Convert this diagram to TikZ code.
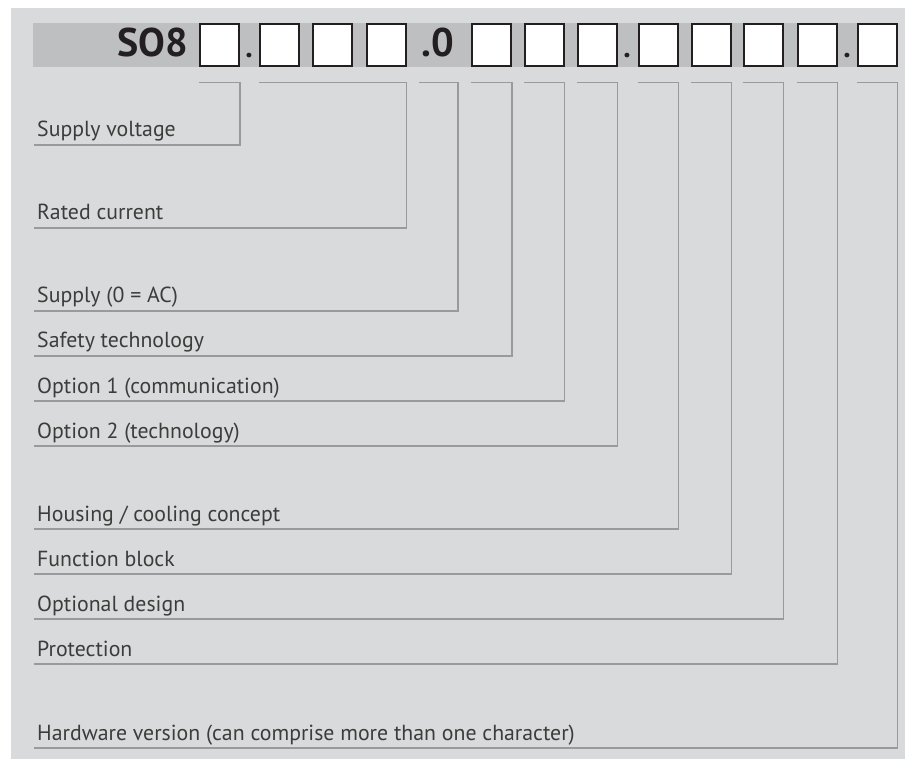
\documentclass[tikz,border=0pt]{standalone}
\usepackage{fontspec}
\setmainfont{PT Sans}
\definecolor{bgc}{HTML}{D9DADB}
\definecolor{bandc}{HTML}{BEBFC1}
\definecolor{leadc}{HTML}{999A9C}
\definecolor{txtc}{HTML}{3C3C3B}
\definecolor{boxc}{HTML}{231F20}
\begin{document}
\begin{tikzpicture}[x=1pt,y=-1pt,
  digit/.style={draw=boxc,line width=2pt,fill=white,minimum width=39pt,minimum height=42.5pt,inner sep=0pt},
  head/.style={text=boxc,font=\fontsize{40}{40}\selectfont\bfseries,inner sep=0pt,anchor=base},
  sep/.style={text=boxc,font=\fontsize{30}{30}\selectfont\bfseries,inner sep=0pt,anchor=base},
  lbl/.style={text=txtc,font=\fontsize{21.8}{21.8}\selectfont,inner sep=0pt,anchor=base west},
  lead/.style={draw=leadc,line width=1.8pt}]
\useasboundingbox (0,0) rectangle (905,759);
\fill[bgc] (11,8) rectangle (905,759);
\fill[bandc] (33,23) rectangle (897,67);
% header
\node[head,anchor=base east] (so) at (188,57) {SO8};
\node[digit] (b1) at (219.5,45) {};
\node[sep] (d1) at (249,58) {.};
\node[digit] (b2) at (279,45) {};
\node[digit] (b3) at (332,45) {};
\node[digit] (b4) at (386,45) {};
\node[head,anchor=base west] (z) at (421,57) {.0};
\node[digit] (b5) at (491.5,45) {};
\node[digit] (b6) at (544,45) {};
\node[digit] (b7) at (597,45) {};
\node[sep] (d2) at (627,58) {.};
\node[digit] (b8) at (658,45) {};
\node[digit] (b9) at (711,45) {};
\node[digit] (b10) at (763,45) {};
\node[digit] (b11) at (817,45) {};
\node[sep] (d3) at (847,58) {.};
\node[digit] (b12) at (877,45) {};
\coordinate (top) at (0,82.5);
\coordinate (zl) at (419,0);
\coordinate (zr) at (458,0);
% labels
\node[lbl] (l1) at (37,137) {Supply voltage};
\node[lbl] (l2) at (37,220) {Rated current};
\node[lbl] (l3) at (37,303) {Supply (0 = AC)};
\node[lbl] (l4) at (37,348) {Safety technology};
\node[lbl] (l5) at (37,393) {Option 1 (communication)};
\node[lbl] (l6) at (37,438) {Option 2 (technology)};
\node[lbl] (l7) at (37,521) {Housing / cooling concept};
\node[lbl] (l8) at (37,566) {Function block};
\node[lbl] (l9) at (37,611) {Optional design};
\node[lbl] (l10) at (37,656) {Protection};
\node[lbl] (l11) at (37,740) {Hardware version (can comprise more than one character)};
\coordinate (u1) at (34,145);
\coordinate (u2) at (34,228);
\coordinate (u3) at (34,311);
\coordinate (u4) at (34,356);
\coordinate (u5) at (34,401);
\coordinate (u6) at (34,446);
\coordinate (u7) at (34,529);
\coordinate (u8) at (34,574);
\coordinate (u9) at (34,619);
\coordinate (u10) at (34,664);
\coordinate (u11) at (34,748);
% leaders
\draw[lead] (b1.west|-top) -| (b1.east|-u1) -- (u1);
\draw[lead] (b2.west|-top) -| (b4.east|-u2) -- (u2);
\draw[lead] (zl|-top) -| (zr|-u3) -- (u3);
\draw[lead] (b5.west|-top) -| (b5.east|-u4) -- (u4);
\draw[lead] (b6.west|-top) -| (b6.east|-u5) -- (u5);
\draw[lead] (b7.west|-top) -| (b7.east|-u6) -- (u6);
\draw[lead] (b8.west|-top) -| (b8.east|-u7) -- (u7);
\draw[lead] (b9.west|-top) -| (b9.east|-u8) -- (u8);
\draw[lead] (b10.west|-top) -| (b10.east|-u9) -- (u9);
\draw[lead] (b11.west|-top) -| (b11.east|-u10) -- (u10);
\draw[lead] (b12.west|-top) -| (b12.east|-u11) -- (u11);
\end{tikzpicture}
\end{document}
